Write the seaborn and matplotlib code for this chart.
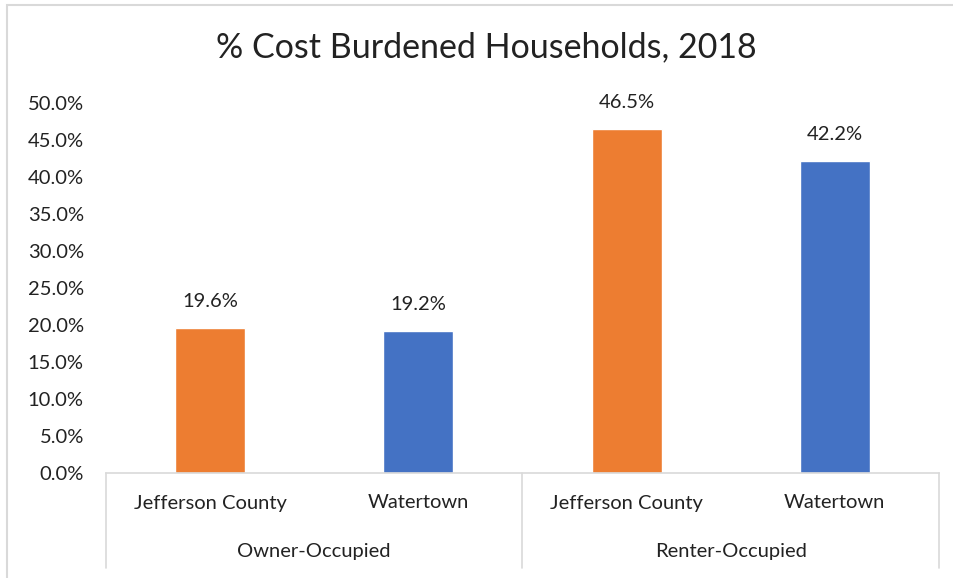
import matplotlib
matplotlib.use("Agg")
import matplotlib.pyplot as plt
from matplotlib.patches import Rectangle
from matplotlib.transforms import blended_transform_factory
from matplotlib.ticker import FuncFormatter, MultipleLocator
import seaborn as sns
import pandas as pd

# Data
tenure = ["Owner-Occupied", "Owner-Occupied", "Renter-Occupied", "Renter-Occupied"]
place = ["Jefferson County", "Watertown", "Jefferson County", "Watertown"]
pct_burdened = [19.6, 19.2, 46.5, 42.2]
groups = ["Owner-Occupied", "Renter-Occupied"]
place_colors = {"Jefferson County": "#ED7D31", "Watertown": "#4472C4"}

sns.set_theme(style="white")
plt.rcParams["font.family"] = ["Lato", "DejaVu Sans"]

TEXT = "#222222"
RULE = "#D9D9D9"
FS = 14.5

df = pd.DataFrame({
    "slot": [f"{t}|{p}" for t, p in zip(tenure, place)],
    "tenure": tenure,
    "place": place,
    "pct": pct_burdened,
})

W, H = 954, 578
fig = plt.figure(figsize=(W / 100, H / 100), dpi=100)
ax = fig.add_axes([106 / W, 1 - 473 / H, (939 - 106) / W, (473 - 103) / H])

sns.barplot(data=df, x="slot", y="pct", hue="place", palette=place_colors,
            dodge=False, width=0.335, saturation=1, legend=False, ax=ax)

ax.set_xlim(-0.5, len(df) - 0.5)
ax.set_ylim(0, 50)
ax.yaxis.set_major_locator(MultipleLocator(5))
ax.yaxis.set_major_formatter(FuncFormatter(lambda v, _: f"{v:.1f}%"))
ax.tick_params(axis="y", length=0, pad=16, labelsize=FS, labelcolor=TEXT)
ax.set_xticks([])
ax.set_xlabel("")
ax.set_ylabel("")
ax.grid(False)
for side in ("top", "right", "left"):
    ax.spines[side].set_visible(False)
ax.spines["bottom"].set_color(RULE)
ax.spines["bottom"].set_linewidth(1.2)

# Value labels above each bar
for bar in ax.patches:
    h = bar.get_height()
    if h != h or h == 0:
        continue
    ax.annotate(f"{h:.1f}%", (bar.get_x() + bar.get_width() / 2, h),
                xytext=(0, 18), textcoords="offset pixels",
                ha="center", va="bottom", fontsize=FS, color=TEXT)

# Two-level category axis
xt = blended_transform_factory(ax.transData, ax.transAxes)
for i, p in enumerate(place):
    ax.annotate(p, (i, 0), xycoords=xt, xytext=(0, -30), textcoords="offset pixels",
                ha="center", va="center", fontsize=FS, color=TEXT, annotation_clip=False)
for g in groups:
    idx = [i for i, t in enumerate(tenure) if t == g]
    center = (min(idx) + max(idx)) / 2
    ax.annotate(g, (center, 0), xycoords=xt, xytext=(0, -78), textcoords="offset pixels",
                ha="center", va="center", fontsize=FS, color=TEXT, annotation_clip=False)

sep_t = blended_transform_factory(ax.transData, fig.transFigure)
bounds = [-0.5] + [max(i for i, t in enumerate(tenure) if t == g) + 0.5 for g in groups]
for b in bounds:
    ax.plot([b, b], [1 - 473 / H, 1 - 568 / H], transform=sep_t,
            color=RULE, lw=1.2, clip_on=False)

fig.text(486.5 / W, 1 - 47 / H, "% Cost Burdened Households, 2018",
         ha="center", va="center", fontsize=24.5, color=TEXT)

# Chart frame
fig.add_artist(Rectangle((7 / W, -0.1), 1.2, 1 - 5 / H + 0.1, transform=fig.transFigure,
                         fill=False, edgecolor=RULE, lw=1.5))

fig.savefig("out.png", dpi=100)
